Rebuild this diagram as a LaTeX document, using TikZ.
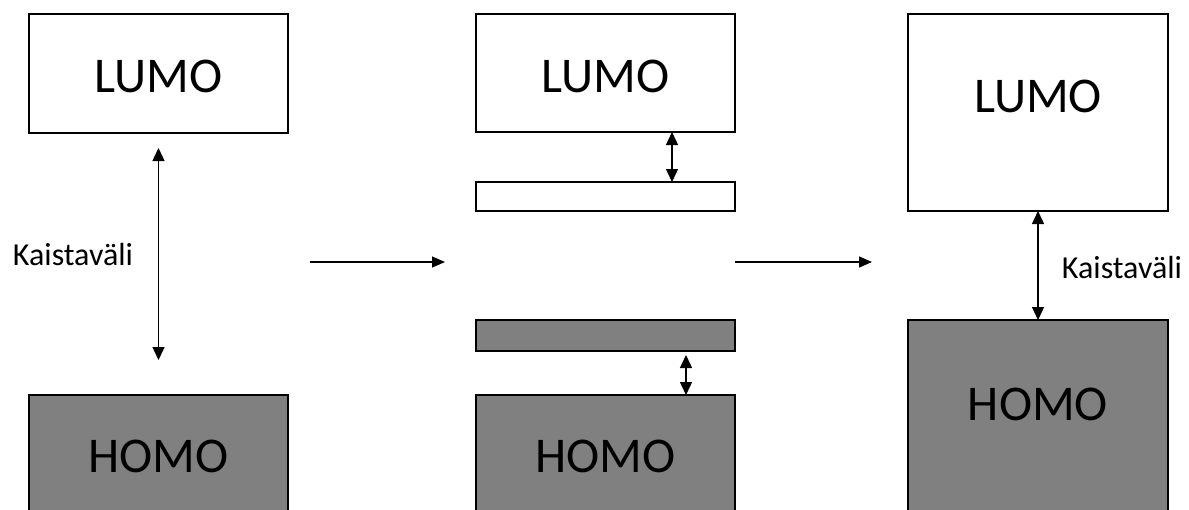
\documentclass[tikz,border=0pt]{standalone}
\usepackage{fontspec}
\setmainfont{Carlito}
\usetikzlibrary{arrows.meta}
\begin{document}
\begin{tikzpicture}[x=1pt,y=-1pt,
  box/.style={draw=black,line width=2.6pt,fill=white,inner sep=0pt,outer sep=0pt},
  gbox/.style={box,fill=gray50},
  big/.style={font=\fontsize{50}{50}\selectfont,inner sep=0pt},
  lbl/.style={font=\fontsize{32}{32}\selectfont,inner sep=0pt},
  dbl/.style={line width=1.4pt,{Triangle[length=13pt,width=12pt]}-{Triangle[length=13pt,width=12pt]}},
  sarr/.style={line width=1.2pt,-{Triangle[length=13pt,width=11pt]}}]
\definecolor{gray50}{HTML}{808080}
\useasboundingbox (0,0) rectangle (1189,509);
\clip (0,0) rectangle (1189,509);
% left
\node[box,minimum width=259pt,minimum height=119pt] (l1) at (158.5,73.5) {};
\node[gbox,minimum width=259pt,minimum height=124pt] (h1) at (158.5,457) {};
\node[big] (t1) at (158.5,76) {LUMO};
\node[big] (u1) at (158.5,456) {HOMO};
\draw[dbl] ([yshift=-15pt]l1.south) -- ([yshift=35pt]h1.north);
\node[lbl] (k1) at (73,255) {Kaistaväli};
% arrows between
\coordinate (a1s) at (310,262);
\coordinate (a1e) at (445,262);
\coordinate (a2s) at (735,262);
\coordinate (a2e) at (872,262);
\draw[sarr] (a1s) -- (a1e);
\draw[sarr] (a2s) -- (a2e);
% middle
\node[box,minimum width=259pt,minimum height=118pt] (l2) at (605.5,73) {};
\node[box,minimum width=259pt,minimum height=29pt] (b2) at (605.5,196.5) {};
\node[gbox,minimum width=259pt,minimum height=31pt] (g2) at (605.5,335.5) {};
\node[gbox,minimum width=259pt,minimum height=124pt] (h2) at (605.5,457) {};
\node[big] (t2) at (605.5,76) {LUMO};
\node[big] (u2) at (605.5,456) {HOMO};
\draw[dbl] ([xshift=196pt]l2.south west) -- ([xshift=196pt]b2.north west);
\draw[dbl] ([xshift=210pt,yshift=-4pt]g2.south west) -- ([xshift=210pt]h2.north west);
% right
\node[box,minimum width=260pt,minimum height=197pt] (l3) at (1038,112.5) {};
\node[gbox,minimum width=260pt,minimum height=200pt] (h3) at (1038,420) {};
\node[big] (t3) at (1038,96) {LUMO};
\node[big] (u3) at (1038,404) {HOMO};
\draw[dbl] (l3.south) -- (h3.north);
\node[lbl] (k3) at (1122,268) {Kaistaväli};
\end{tikzpicture}
\end{document}
